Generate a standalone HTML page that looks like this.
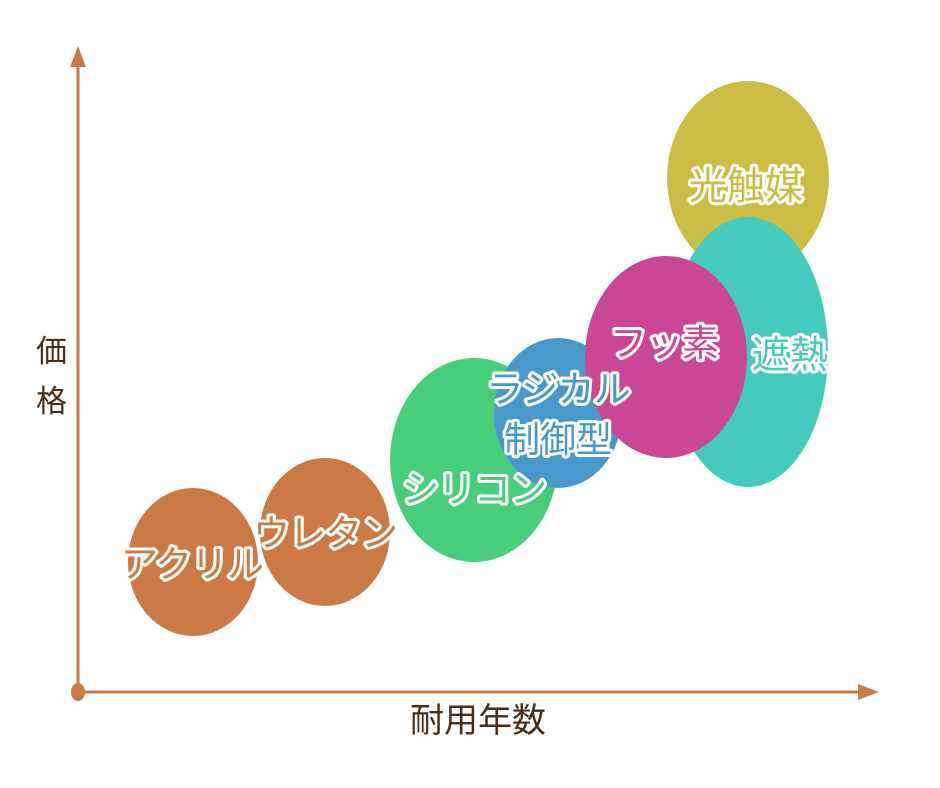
<!DOCTYPE html>
<html><head><meta charset="utf-8"><style>
html,body{margin:0;padding:0;background:#fff;}
svg{display:block;}
.t{font-family:"Liberation Sans","Noto Sans CJK JP",sans-serif;font-weight:normal;stroke:#fff;stroke-width:6px;paint-order:stroke;stroke-linejoin:round;}
.ax{font-family:"Liberation Sans","Noto Sans CJK JP",sans-serif;fill:#4a2c17;}
</style></head><body>
<svg width="940" height="788" viewBox="0 0 940 788">
<line x1="78" y1="62" x2="78" y2="692" stroke="#c97b47" stroke-width="3"/>
<polygon points="78,46 70,67 86,67" fill="#c97b47"/>
<line x1="78" y1="692" x2="862" y2="692" stroke="#c97b47" stroke-width="3"/>
<polygon points="879,692 858,684 858,700" fill="#c97b47"/>
<ellipse cx="78" cy="692" rx="7" ry="9" fill="#c97b47"/>
<text class="ax" x="36" y="362" font-size="31">価</text>
<text class="ax" x="36" y="412" font-size="31">格</text>
<text class="ax" x="478" y="732" font-size="34" text-anchor="middle">耐用年数</text>

<ellipse cx="193" cy="562" rx="65" ry="74" fill="#cb7a45"/>
<ellipse cx="325" cy="532" rx="65" ry="74" fill="#cb7a45"/>
<ellipse cx="474" cy="460" rx="84" ry="102" fill="#48cd7b"/>
<ellipse cx="558" cy="413" rx="64" ry="75" fill="#4799cc"/>
<ellipse cx="748" cy="178" rx="81" ry="97" fill="#cbbd44"/>
<ellipse cx="748" cy="352" rx="80" ry="135" fill="#45cbbd"/>
<ellipse cx="666" cy="357" rx="81" ry="101" fill="#c94795"/>

<text class="t" x="192" y="577" font-size="37" fill="#cb7a45" text-anchor="middle" letter-spacing="-1">アクリル</text>
<text class="t" x="325" y="546" font-size="37" fill="#cb7a45" text-anchor="middle" letter-spacing="-1">ウレタン</text>
<text class="t" x="474" y="502" font-size="37" fill="#48cd7b" text-anchor="middle" letter-spacing="-1">シリコン</text>
<text class="t" x="558" y="402" font-size="37" fill="#4799cc" text-anchor="middle" letter-spacing="-1">ラジカル</text>
<text class="t" x="558" y="452" font-size="36" fill="#4799cc" text-anchor="middle">制御型</text>
<text class="t" x="746" y="199" font-size="38" fill="#cbbd44" text-anchor="middle">光触媒</text>
<text class="t" x="790" y="368" font-size="38" fill="#45cbbd" text-anchor="middle">遮熱</text>
<text class="t" x="664" y="356" font-size="37" fill="#c94795" text-anchor="middle" letter-spacing="-1">フッ素</text>
</svg>
</body></html>
